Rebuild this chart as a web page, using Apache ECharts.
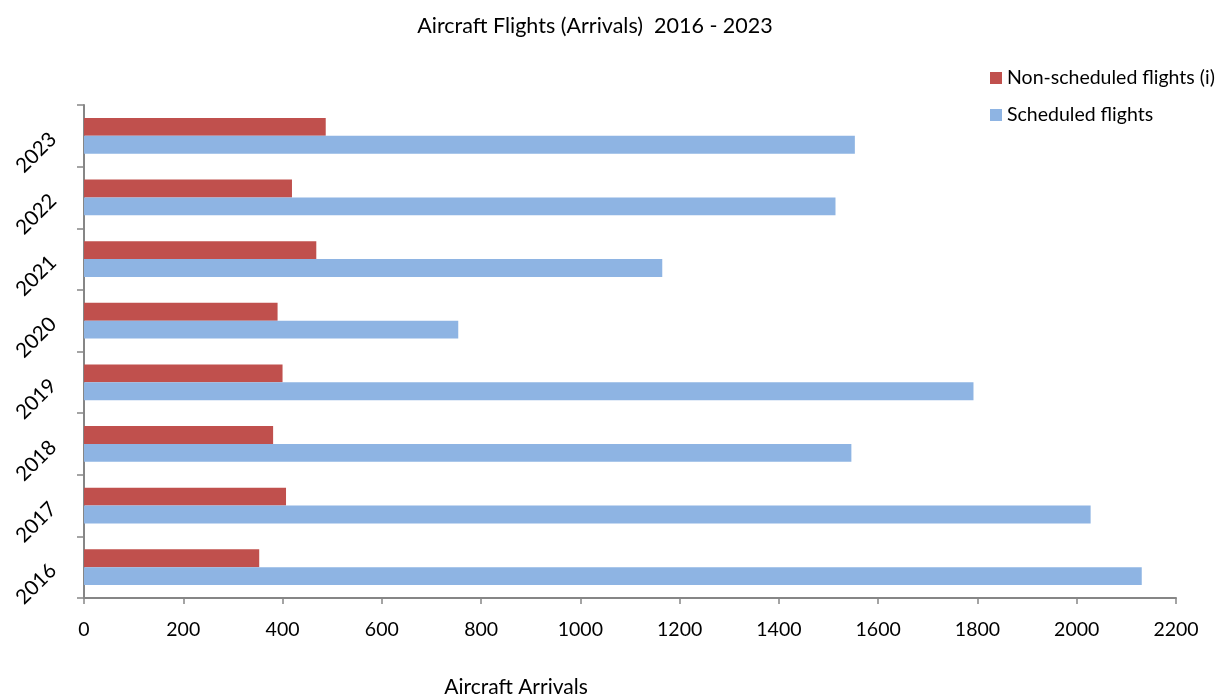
<!DOCTYPE html>
<html><head><meta charset="utf-8">
<script src="https://cdn.jsdelivr.net/npm/echarts@6/dist/echarts.min.js"></script>
<style>html,body{margin:0;padding:0;background:#fff}#c{width:1222px;height:698px}</style>
</head><body><div id="c"></div>
<script>
const years = ['2016','2017','2018','2019','2020','2021','2022','2023'];
const nonScheduled = [353, 407, 381, 400, 390, 468, 419, 487];
const scheduled = [2131, 2028, 1546, 1792, 754, 1165, 1514, 1553];
const seriesNames = ['Non-scheduled flights (i)', 'Scheduled flights'];
const xTicks = {min: 0, max: 2200, interval: 200};

const font = 'Lato, "Open Sans", sans-serif';
const chart = echarts.init(document.getElementById('c'), null, {renderer: 'canvas'});
chart.setOption({
  animation: false,
  textStyle: {fontFamily: font},
  title: [
    {text: 'Aircraft Flights (Arrivals)  2016 - 2023', left: 590, top: 10, textAlign: 'center',
     textStyle: {fontSize: 21.5, fontWeight: 'normal', color: '#000', fontFamily: font}},
    {text: 'Aircraft Arrivals', left: 511, top: 672, textAlign: 'center',
     textStyle: {fontSize: 21, fontWeight: 'normal', color: '#000', fontFamily: font}}
  ],
  legend: {
    orient: 'vertical', left: 985, top: 63, itemWidth: 12, itemHeight: 12, itemGap: 17,
    icon: 'rect',
    textStyle: {fontSize: 19.5, color: '#000', fontFamily: font},
    data: seriesNames
  },
  grid: {left: 84, right: 46, top: 105, bottom: 100, containLabel: false},
  xAxis: {
    type: 'value', min: xTicks.min, max: xTicks.max, interval: xTicks.interval,
    axisLine: {show: true, lineStyle: {color: '#868686', width: 2}},
    axisTick: {show: true, length: 6, lineStyle: {color: '#868686', width: 1.5}},
    splitLine: {show: false},
    axisLabel: {fontSize: 19.5, color: '#000', margin: 22, fontFamily: font,
      formatter: v => String(v)}
  },
  yAxis: {
    type: 'category', data: years,
    axisLine: {show: true, lineStyle: {color: '#868686', width: 2}},
    axisTick: {show: true, length: 7, lineStyle: {color: '#868686', width: 1.5}},
    axisLabel: {fontSize: 20.5, color: '#000', rotate: 45, margin: 31, fontFamily: font}
  },
  series: [
    {name: seriesNames[0], type: 'bar', data: nonScheduled, itemStyle: {color: '#C0504D'},
     barGap: '0%', barCategoryGap: '42%'},
    {name: seriesNames[1], type: 'bar', data: scheduled, itemStyle: {color: '#8EB4E3'},
     barGap: '0%', barCategoryGap: '42%'}
  ]
});
</script></body></html>
